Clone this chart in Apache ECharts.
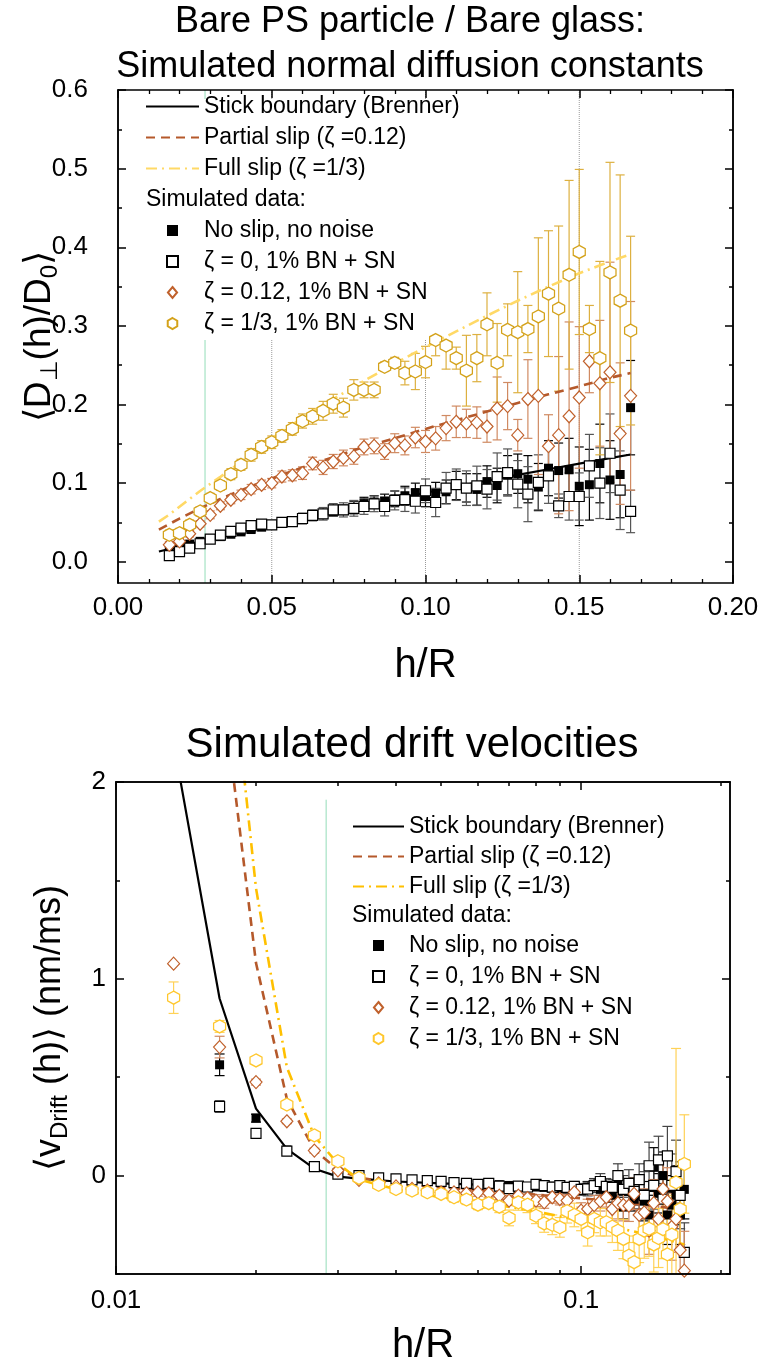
<!DOCTYPE html>
<html><head><meta charset="utf-8">
<script src="https://cdn.jsdelivr.net/npm/echarts@6/dist/echarts.min.js"></script>
<style>html,body{margin:0;padding:0;background:#fff}#c{width:759px;height:1367px}</style>
</head><body><div id="c"></div>
<script>
// ---------------- DATA ----------------
// h/R of the simulated points (top chart, n = 5..50)
const hR = [0.0167,0.0200,0.0233,0.0267,0.0300,0.0333,0.0367,0.0400,0.0433,0.0467,
            0.0500,0.0533,0.0567,0.0600,0.0633,0.0667,0.0700,0.0733,0.0767,0.0800,
            0.0833,0.0867,0.0900,0.0933,0.0967,0.1000,0.1033,0.1067,0.1100,0.1133,
            0.1167,0.1200,0.1233,0.1267,0.1300,0.1333,0.1367,0.1400,0.1433,0.1467,
            0.1500,0.1533,0.1567,0.1600,0.1633,0.1667];
// h/R of the simulated points (bottom chart, n = 4..50)
const hRBot = [0.0133,0.0167,0.0200,0.0233,0.0267,0.0300,0.0333,0.0367,0.0400,0.0433,0.0467,
            0.0500,0.0533,0.0567,0.0600,0.0633,0.0667,0.0700,0.0733,0.0767,0.0800,
            0.0833,0.0867,0.0900,0.0933,0.0967,0.1000,0.1033,0.1067,0.1100,0.1133,
            0.1167,0.1200,0.1233,0.1267,0.1300,0.1333,0.1367,0.1400,0.1433,0.1467,
            0.1500,0.1533,0.1567,0.1600,0.1633,0.1667];

// Top chart: <D_perp(h)/D0>
const topNoSlip = [0.016,0.019,0.0225,0.026,0.029,0.032,0.035,0.038,0.041,0.044,
                   0.047,0.050,0.052,0.055,0.058,0.061,0.064,0.066,0.069,0.074,
                   0.076,0.077,0.080,0.084,0.088,0.083,0.087,0.089,0.097,0.094,
                   0.092,0.102,0.097,0.110,0.112,0.105,0.095,0.119,0.116,0.117,
                   0.096,0.098,0.125,0.104,0.111,0.196];
const topNoSlipErr = [0.003,0.003,0.003,0.003,0.003,0.003,0.003,0.003,0.003,0.003,
                   0.003,0.004,0.004,0.005,0.005,0.005,0.006,0.006,0.008,0.008,
                   0.008,0.009,0.010,0.012,0.012,0.013,0.014,0.015,0.018,0.018,
                   0.020,0.020,0.022,0.025,0.025,0.030,0.030,0.035,0.035,0.040,
                   0.050,0.045,0.050,0.050,0.055,0.060];
const topZeta0 = [0.0077,0.013,0.0174,0.0229,0.0288,0.0339,0.0386,0.0428,0.046,0.048,
                  0.047,0.050,0.051,0.055,0.059,0.061,0.066,0.066,0.068,0.0703,
                  0.0737,0.0703,0.078,0.079,0.077,0.0903,0.0754,0.0936,0.098,0.0936,
                  0.0966,0.0923,0.1084,0.1135,0.0987,0.086,0.101,0.1093,0.0712,0.083,
                  0.083,0.122,0.100,0.138,0.091,0.064];
const topZeta0Err = [0.004,0.004,0.004,0.004,0.004,0.004,0.004,0.004,0.004,0.004,
                  0.005,0.006,0.006,0.007,0.007,0.008,0.008,0.009,0.010,0.010,
                  0.010,0.012,0.012,0.015,0.015,0.015,0.018,0.020,0.020,0.022,
                  0.025,0.025,0.030,0.030,0.030,0.035,0.035,0.035,0.015,0.030,
                  0.030,0.040,0.045,0.050,0.050,0.027];
const topZeta012 = [0.0215,0.0259,0.0356,0.0483,0.0597,0.0712,0.0788,0.0851,0.0923,0.0979,
                    0.100,0.1084,0.110,0.1127,0.125,0.120,0.1275,0.132,0.134,0.146,
                    0.1474,0.1402,0.1508,0.148,0.158,0.153,0.157,0.170,0.178,0.176,
                    0.177,0.172,0.195,0.198,0.161,0.207,0.211,0.147,0.161,0.185,
                    0.209,0.255,0.227,0.241,0.163,0.211];
const topZeta012Err = [0.004,0.004,0.004,0.004,0.005,0.005,0.005,0.006,0.006,0.006,
                    0.006,0.007,0.007,0.008,0.008,0.009,0.009,0.010,0.010,0.010,
                    0.010,0.010,0.012,0.012,0.013,0.014,0.015,0.016,0.020,0.018,
                    0.020,0.020,0.040,0.030,0.020,0.050,0.100,0.040,0.100,0.120,
                    0.090,0.040,0.080,0.140,0.090,0.120];
const topZeta13 = [0.0343,0.0364,0.047,0.064,0.081,0.097,0.1114,0.1233,0.136,0.146,
                   0.152,0.160,0.169,0.179,0.185,0.192,0.201,0.196,0.2186,0.2186,
                   0.2186,0.248,0.253,0.240,0.242,0.254,0.282,0.275,0.259,0.243,
                   0.259,0.302,0.253,0.295,0.292,0.296,0.312,0.341,0.322,0.365,
                   0.394,0.296,0.259,0.368,0.332,0.294];
const topZeta13Err = [0.006,0.006,0.006,0.006,0.006,0.006,0.007,0.007,0.008,0.008,
                   0.008,0.008,0.008,0.009,0.010,0.012,0.012,0.012,0.013,0.010,
                   0.010,0.006,0.007,0.015,0.023,0.020,0.020,0.030,0.014,0.045,
                   0.030,0.040,0.050,0.033,0.077,0.030,0.100,0.080,0.105,0.120,
                   0.105,0.030,0.123,0.140,0.160,0.120];

// Top chart theory curves
const curveXTop = [0.0133,0.0167,0.0200,0.0267,0.0333,0.0400,0.0500,0.0600,0.0700,0.0800,
                   0.0900,0.1000,0.1100,0.1200,0.1300,0.1400,0.1500,0.1600,0.1667];
const stickTop = [0.0130,0.0163,0.0194,0.0257,0.0318,0.0378,0.0467,0.0553,0.0637,0.0719,
                  0.0800,0.0878,0.0955,0.1031,0.1105,0.1177,0.1248,0.1318,0.1364];
const partialTop = [0.041,0.048,0.055,0.068,0.080,0.091,0.106,0.120,0.133,0.146,
                    0.157,0.169,0.180,0.191,0.202,0.213,0.223,0.234,0.240];
const fullTop = [0.051,0.060,0.070,0.090,0.108,0.127,0.157,0.183,0.207,0.230,
                 0.252,0.273,0.293,0.313,0.332,0.350,0.367,0.382,0.391];

// Bottom chart: <v_Drift(h)> (nm/ms)
const botNoSlip = [null,0.563,0.292,0.13,0.05,0.01,0.003,-0.01,-0.018,-0.022,-0.026,
                   -0.029,-0.033,-0.036,-0.04,-0.043,-0.046,-0.05,-0.052,-0.055,-0.058,
                   -0.06,-0.062,-0.065,-0.068,-0.06,-0.07,-0.06,-0.045,-0.07,-0.08,
                   -0.1,-0.05,-0.16,-0.08,-0.12,-0.1,-0.13,-0.2,0.042,-0.09,
                   0.0,-0.2,-0.15,-0.1,-0.2,-0.07];
const botNoSlipErr = [null,0.055,0.02,0.012,0.01,0.01,0.01,0.01,0.01,0.01,0.01,
                   0.01,0.012,0.012,0.012,0.012,0.012,0.012,0.012,0.012,0.012,
                   0.015,0.02,0.02,0.02,0.02,0.025,0.03,0.03,0.03,0.03,
                   0.035,0.06,0.06,0.06,0.06,0.07,0.1,0.1,0.1,0.1,
                   0.12,0.15,0.15,0.15,0.15,0.15];
const botZeta0 = [null,0.351,0.215,0.124,0.046,0.008,0.0,-0.012,-0.017,-0.022,-0.026,
                  -0.029,-0.036,-0.04,-0.045,-0.04,-0.053,-0.066,-0.053,-0.058,-0.045,
                  -0.051,-0.059,-0.051,-0.06,-0.055,-0.07,-0.068,-0.051,-0.03,-0.055,
                  -0.06,0.0,-0.07,-0.04,-0.08,-0.02,-0.1,0.05,-0.05,0.08,
                  -0.12,0.1,-0.05,0.02,-0.1,-0.39];
const botZeta0Err = [null,0.03,0.012,0.012,0.012,0.012,0.012,0.012,0.012,0.012,0.012,
                  0.012,0.015,0.015,0.015,0.015,0.015,0.015,0.015,0.015,0.015,
                  0.02,0.025,0.025,0.025,0.025,0.03,0.035,0.035,0.04,0.04,
                  0.04,0.06,0.07,0.07,0.07,0.08,0.12,0.12,0.12,0.12,
                  0.14,0.15,0.16,0.16,0.17,0.15];
const botZeta012 = [1.077,0.653,0.475,0.276,0.127,0.026,-0.022,-0.04,-0.055,-0.068,-0.076,
                    -0.085,-0.085,-0.09,-0.085,-0.09,-0.102,-0.127,-0.102,-0.114,-0.127,
                    -0.136,-0.11,-0.119,-0.127,-0.085,-0.178,-0.17,-0.15,-0.13,-0.11,
                    -0.17,-0.14,-0.15,-0.153,-0.093,-0.2,-0.187,-0.28,-0.14,-0.22,
                    -0.068,-0.13,-0.26,-0.22,-0.378,-0.483];
const botZeta012Err = [0,0.055,0.015,0.012,0.012,0.012,0.012,0.012,0.012,0.012,0.012,
                    0.015,0.02,0.02,0.02,0.02,0.02,0.025,0.025,0.025,0.03,
                    0.03,0.03,0.03,0.03,0.03,0.04,0.05,0.05,0.05,0.05,
                    0.06,0.08,0.08,0.08,0.08,0.1,0.12,0.12,0.12,0.12,
                    0.15,0.17,0.17,0.17,0.2,0.2];
const botZeta13 = [0.904,0.758,0.585,0.361,0.204,0.073,-0.012,-0.047,-0.068,-0.076,-0.085,
                   -0.093,-0.11,-0.122,-0.148,-0.14,-0.158,-0.215,-0.136,-0.148,-0.204,
                   -0.243,-0.25,-0.263,-0.181,-0.2,-0.22,-0.288,-0.22,-0.237,-0.237,
                   -0.26,-0.28,-0.322,-0.407,-0.44,-0.322,-0.28,-0.27,-0.35,-0.317,
                   -0.272,-0.4,-0.3,-0.034,-0.17,0.059];
const botZeta13Err = [0.08,0.03,0.015,0.015,0.015,0.015,0.015,0.015,0.015,0.015,0.015,
                   0.02,0.025,0.025,0.025,0.025,0.03,0.04,0.04,0.04,0.04,
                   0.045,0.05,0.05,0.06,0.06,0.06,0.07,0.07,0.07,0.07,
                   0.08,0.1,0.1,0.1,0.1,0.12,0.14,0.14,0.14,0.15,
                   0.15,0.2,0.2,0.68,0.2,0.25];

// Bottom chart theory curves
const curveXBot = [0.0133,0.0167,0.0200,0.0233,0.0267,0.0300,0.0333,0.0400,0.0500,0.0667,
                   0.0833,0.1000,0.1167,0.1333,0.1500,0.1667];
const stickBot = [2.2,0.90,0.34,0.136,0.035,-0.005,-0.015,-0.03,-0.04,-0.05,
                  -0.058,-0.065,-0.07,-0.075,-0.08,-0.085];
const partialBot = [null,2.6,1.08,0.39,0.13,0.03,-0.01,-0.04,-0.06,-0.08,
                    -0.10,-0.115,-0.13,-0.145,-0.16,-0.175];
const fullBot = [null,3.2,1.46,0.55,0.20,0.06,-0.02,-0.07,-0.11,-0.15,
                 -0.19,-0.23,-0.26,-0.29,-0.32,-0.35];

// Reference verticals
const tealLineX = 0.0283;
const dottedLinesTop = [0.05, 0.10, 0.15];

// Tick values
const topXTickStep = 0.05;
const topYLabels = [0, 0.1, 0.2, 0.3, 0.4, 0.5, 0.6];
const topYMinor = [0.05, 0.15, 0.25, 0.35, 0.45, 0.55];
const botXMajor = [0.01000001, 0.1];
const botXMinor = [0.02,0.03,0.04,0.05,0.06,0.07,0.08,0.09,0.2];
const botYLabels = [0, 1, 2];
const botYMinor = [-0.5, 0.5, 1.5];

// Legend labels
const N_STICK = 'Stick boundary (Brenner)';
const N_PART = 'Partial slip (ζ =0.12)';
const N_FULL = 'Full slip (ζ =1/3)';
const N_NS = 'No slip, no noise';
const N_Z0 = 'ζ = 0, 1% BN + SN';
const N_Z12 = 'ζ = 0.12, 1% BN + SN';
const N_Z13 = 'ζ = 1/3, 1% BN + SN';
const B = '\u200b'; // suffix for bottom-chart series names

// ---------------- CHART ----------------
const FONT = "'Liberation Sans', Arial, Helvetica, sans-serif";
const K = '#000';
const HEX = 'path://M50,0 L93.3,25 L93.3,75 L50,100 L6.7,75 L6.7,25 Z';
const SQ = 'path://M0,0 L10,0 L10,10 L0,10 Z';
const DIA = 'path://M5,0 L10,6 L5,12 L0,6 Z';

function pts(xs, ys){ const o=[]; for(let i=0;i<xs.length;i++){ if(ys[i]!=null) o.push([xs[i], ys[i]]); } return o; }
function epts(xs, ys, es){ const o=[]; for(let i=0;i<xs.length;i++){ if(ys[i]!=null && es[i]) o.push([xs[i], ys[i], es[i]]); } return o; }

function errSeries(xi, yi, data, color, cap){
  return {
    type:'custom', xAxisIndex:xi, yAxisIndex:yi, data:data, clip:true, silent:true, z:2,
    encode:{x:0, y:1},
    renderItem:function(params, api){
      const x=api.value(0), y=api.value(1), e=api.value(2);
      const t=api.coord([x, y+e]), b=api.coord([x, y-e]);
      const st={stroke:color, lineWidth:1.2, fill:null};
      return {type:'group', children:[
        {type:'line', shape:{x1:t[0],y1:t[1],x2:b[0],y2:b[1]}, style:st},
        {type:'line', shape:{x1:t[0]-cap/2,y1:t[1],x2:t[0]+cap/2,y2:t[1]}, style:st},
        {type:'line', shape:{x1:b[0]-cap/2,y1:b[1],x2:b[0]+cap/2,y2:b[1]}, style:st}
      ]};
    }
  };
}
function lineSeries(name, xi, yi, data, color, type, width, z){
  return {type:'line', name:name, xAxisIndex:xi, yAxisIndex:yi, data:data, symbol:'none', showSymbol:false,
    clip:true, silent:true, z:z||3, lineStyle:{color:color, width:width, type:type},
    itemStyle:{color:color, opacity:0}};
}
function scat(name, xi, yi, data, symbol, size, fill, border, bw){
  return {type:'scatter', name:name, xAxisIndex:xi, yAxisIndex:yi, data:data, symbol:symbol, symbolSize:size,
    clip:true, silent:true, z:3, itemStyle:{color:fill, borderColor:border, borderWidth:bw, opacity:1}};
}

const axLine = {show:true, onZero:false, lineStyle:{color:K, width:1.5}};
function tick(len, custom){ const t={show:true, inside:true, length:len, lineStyle:{color:K, width:1.5}}; if(custom) t.customValues=custom; return t; }
const noLab = {show:false};
const base = {z:5, silent:true, splitLine:{show:false}, minorSplitLine:{show:false}, axisLine:axLine, nameMoveOverlap:false};
function A(o){ return Object.assign({}, base, o); }

const tickFont = {fontSize:26, fontFamily:FONT, color:K};

const xAxes = [
  A({gridIndex:0, type:'value', position:'bottom', min:0, max:0.2, interval:topXTickStep,
     axisTick:tick(8), minorTick:{show:true, splitNumber:5, length:4, lineStyle:{color:K, width:1.3}},
     axisLabel:Object.assign({show:true, margin:12, formatter:v=>v.toFixed(2)}, tickFont),
     name:'h/R', nameLocation:'middle', nameGap:63, nameTextStyle:{fontSize:40, fontFamily:FONT, color:K}}),
  A({gridIndex:0, type:'value', position:'top', min:0, max:0.2, interval:topXTickStep,
     axisTick:tick(8), minorTick:{show:true, splitNumber:5, length:4, lineStyle:{color:K, width:1.3}}, axisLabel:noLab}),
  A({gridIndex:1, type:'log', logBase:10, position:'bottom', min:0.01, max:0.209,
     axisTick:tick(8, botXMajor),
     axisLabel:Object.assign({show:true, margin:14, customValues:botXMajor, formatter:v=>(v<0.05?'0.01':'0.1')}, tickFont),
     name:'h/R', nameLocation:'middle', nameGap:52, nameTextStyle:{fontSize:40, fontFamily:FONT, color:K}}),
  A({gridIndex:1, type:'log', logBase:10, position:'bottom', min:0.01, max:0.209, axisTick:tick(4, botXMinor), axisLabel:noLab}),
  A({gridIndex:1, type:'log', logBase:10, position:'top', min:0.01, max:0.209, axisTick:tick(8, botXMajor), axisLabel:noLab}),
  A({gridIndex:1, type:'log', logBase:10, position:'top', min:0.01, max:0.209, axisTick:tick(4, botXMinor), axisLabel:noLab})
];

const yAxes = [
  A({gridIndex:0, type:'value', position:'left', min:-0.027, max:0.6,
     axisTick:tick(8, topYLabels),
     axisLabel:Object.assign({show:true, margin:30, customValues:topYLabels, formatter:v=>v.toFixed(1)}, tickFont),
     name:'{a|⟨D}{s|⊥}{a|(h)/D}{s|0}{a|⟩}', nameLocation:'middle', nameGap:56,
     nameTextStyle:{fontSize:37, fontFamily:FONT, color:K,
       rich:{a:{fontSize:37, fontFamily:FONT, color:K, lineHeight:44},
             s:{fontSize:24, fontFamily:FONT, color:K, lineHeight:15, verticalAlign:'bottom'}}}}),
  A({gridIndex:0, type:'value', position:'left', min:-0.027, max:0.6, axisTick:tick(4, topYMinor), axisLabel:noLab}),
  A({gridIndex:0, type:'value', position:'right', min:-0.027, max:0.6, axisTick:tick(8, topYLabels), axisLabel:noLab}),
  A({gridIndex:0, type:'value', position:'right', min:-0.027, max:0.6, axisTick:tick(4, topYMinor), axisLabel:noLab}),
  A({gridIndex:1, type:'value', position:'left', min:-0.5, max:2,
     axisTick:tick(8, botYLabels),
     axisLabel:Object.assign({show:true, margin:10, customValues:botYLabels, formatter:v=>String(v)}, tickFont),
     name:'{a|⟨v}{s|Drift}{a| (h)⟩ (nm/ms)}', nameLocation:'middle', nameGap:44,
     nameTextStyle:{fontSize:36, fontFamily:FONT, color:K,
       rich:{a:{fontSize:36, fontFamily:FONT, color:K, lineHeight:44},
             s:{fontSize:24, fontFamily:FONT, color:K, lineHeight:15, verticalAlign:'bottom'}}}}),
  A({gridIndex:1, type:'value', position:'left', min:-0.5, max:2, axisTick:tick(4, botYMinor), axisLabel:noLab}),
  A({gridIndex:1, type:'value', position:'right', min:-0.5, max:2, axisTick:tick(8, botYLabels), axisLabel:noLab}),
  A({gridIndex:1, type:'value', position:'right', min:-0.5, max:2, axisTick:tick(4, botYMinor), axisLabel:noLab})
];

// colours
const BROWN = '#C0612C', BROWN_E = '#D08A62', BROWN_L = '#B5592B';
const GOLD = '#D4A21A', GOLD_E = '#DDB040', PALEY = '#FFD966';
const YEL = '#FFC72C', YEL_E = '#FFD257', YEL_L = '#FFC000';
const TEAL = '#93DDB8';

const series = [];
// top reference lines
series.push(lineSeries('refTeal', 0, 0, [[tealLineX,-0.027],[tealLineX,0.6]], TEAL, 'solid', 1, 1));
dottedLinesTop.forEach(function(x){ series.push(lineSeries('refDot'+x, 0, 0, [[x,-0.027],[x,0.6]], '#9a9a9a', 'dotted', 1, 1)); });
// top theory
series.push(lineSeries(N_STICK, 0, 0, pts(curveXTop, stickTop), K, 'solid', 2.2));
series.push(lineSeries(N_PART, 0, 0, pts(curveXTop, partialTop), BROWN_L, [9,6], 2.6));
series.push(lineSeries(N_FULL, 0, 0, pts(curveXTop, fullTop), PALEY, [11,5,2,5], 2.6));
// top error bars
series.push(errSeries(0, 0, epts(hR, topNoSlip, topNoSlipErr), K, 9));
series.push(errSeries(0, 0, epts(hR, topZeta0, topZeta0Err), '#555', 9));
series.push(errSeries(0, 0, epts(hR, topZeta012, topZeta012Err), BROWN_E, 9));
series.push(errSeries(0, 0, epts(hR, topZeta13, topZeta13Err), GOLD_E, 9));
// top points
series.push(scat(N_NS, 0, 0, pts(hR, topNoSlip), 'rect', 9, K, K, 0));
series.push(scat(N_Z0, 0, 0, pts(hR, topZeta0), 'rect', 10, '#fff', K, 1.2));
series.push(scat(N_Z12, 0, 0, pts(hR, topZeta012), 'diamond', [12,13], '#fff', BROWN, 1.2));
series.push(scat(N_Z13, 0, 0, pts(hR, topZeta13), HEX, [12,13], '#fff', GOLD, 1.3));

// bottom reference line
series.push(lineSeries('refTealB', 2, 4, [[tealLineX,-0.5],[tealLineX,1.91]], TEAL, 'solid', 1, 1));
// bottom theory
series.push(lineSeries(N_STICK+B, 2, 4, pts(curveXBot, stickBot), K, 'solid', 2.2));
series.push(lineSeries(N_PART+B, 2, 4, pts(curveXBot, partialBot), BROWN_L, [9,6], 2.6));
series.push(lineSeries(N_FULL+B, 2, 4, pts(curveXBot, fullBot), YEL_L, [11,5,2,5], 2.6));
// bottom error bars
series.push(errSeries(2, 4, epts(hRBot, botNoSlip, botNoSlipErr), K, 10));
series.push(errSeries(2, 4, epts(hRBot, botZeta0, botZeta0Err), '#444', 10));
series.push(errSeries(2, 4, epts(hRBot, botZeta012, botZeta012Err), BROWN_E, 10));
series.push(errSeries(2, 4, epts(hRBot, botZeta13, botZeta13Err), YEL_E, 10));
// bottom points
series.push(scat(N_NS+B, 2, 4, pts(hRBot, botNoSlip), 'rect', 9, K, K, 0));
series.push(scat(N_Z0+B, 2, 4, pts(hRBot, botZeta0), 'rect', 10, '#fff', K, 1.2));
series.push(scat(N_Z12+B, 2, 4, pts(hRBot, botZeta012), 'diamond', [12,13], '#fff', BROWN, 1.2));
series.push(scat(N_Z13+B, 2, 4, pts(hRBot, botZeta13), HEX, [12,13], '#fff', YEL, 1.3));

const legTxt = {fontSize:23, fontFamily:FONT, color:K, lineHeight:23};
function leg(left, top, names, gap, w, h){
  return {show:true, orient:'vertical', left:left, top:top, padding:0, itemGap:gap, itemWidth:w, itemHeight:h||12,
    selectedMode:false, symbolKeepAspect:true, textStyle:legTxt, z:4, data:names};
}
function lineItem(n){ return {name:n, itemStyle:{opacity:0}}; }

const option = {
  animation:false,
  backgroundColor:'#fff',
  textStyle:{fontFamily:FONT},
  title:[
    {text:'Bare PS particle / Bare glass:\nSimulated normal diffusion constants', left:410, top:0, padding:0,
     textAlign:'center', textStyle:{fontSize:36, fontWeight:'normal', fontFamily:FONT, color:K, lineHeight:45}},
    {text:'Simulated drift velocities', left:412, top:720, padding:0, textAlign:'center',
     textStyle:{fontSize:42, fontWeight:'normal', fontFamily:FONT, color:K, lineHeight:50}}
  ],
  grid:[
    {left:118, top:90, width:615, height:493, outerBoundsMode:'none', containLabel:false, show:false},
    {left:116, top:782, width:614, height:492, outerBoundsMode:'none', containLabel:false, show:false}
  ],
  xAxis:xAxes,
  yAxis:yAxes,
  legend:[
    leg(145, 95, [lineItem(N_STICK), lineItem(N_PART), lineItem(N_FULL)], 8, 53),
    leg(166, 219, [{name:N_NS, icon:SQ}, {name:N_Z0, icon:SQ}, {name:N_Z12, icon:DIA}, {name:N_Z13, icon:HEX}], 8, 53, 11),
    leg(352, 815, [lineItem(N_STICK+B), lineItem(N_PART+B), lineItem(N_FULL+B)], 7, 51),
    leg(372, 934, [{name:N_NS+B, icon:SQ}, {name:N_Z0+B, icon:SQ}, {name:N_Z12+B, icon:DIA}, {name:N_Z13+B, icon:HEX}], 8, 51, 11)
  ],
  graphic:[
    {type:'rect', shape:{x:137, y:99, width:323, height:241}, style:{fill:'#fff'}, z:3, silent:true},
    {type:'text', x:146, y:200, z:4, silent:true,
     style:{text:'Simulated data:', font:'23px '+FONT, fill:K, textVerticalAlign:'middle', verticalAlign:'middle'}},
    {type:'text', x:352, y:916, z:4, silent:true,
     style:{text:'Simulated data:', font:'23px '+FONT, fill:K, textVerticalAlign:'middle', verticalAlign:'middle'}}
  ],
  series:series
};

const chart = echarts.init(document.getElementById('c'), null, {renderer:'canvas', width:759, height:1367});
chart.setOption(option);
</script></body></html>
